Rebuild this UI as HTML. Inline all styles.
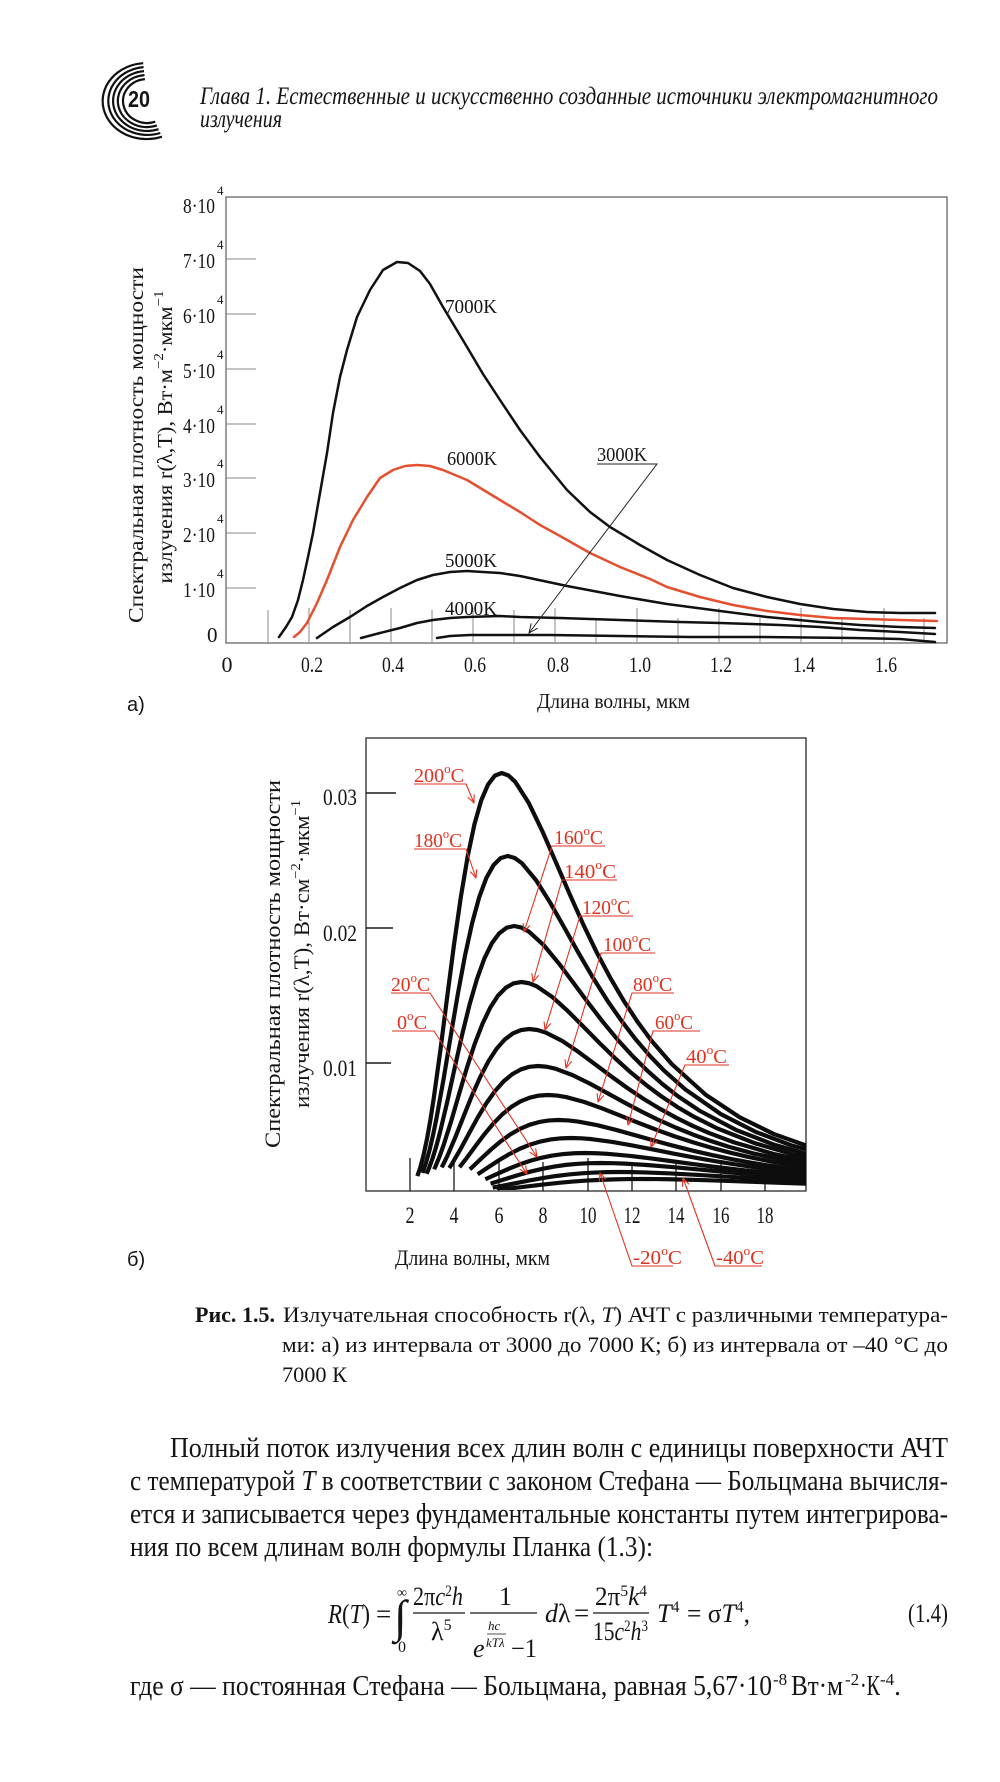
<!DOCTYPE html>
<html>
<head>
<meta charset="utf-8">
<style>
html,body{margin:0;padding:0;background:#fff;}
svg{display:block;}
</style>
</head>
<body>
<svg width="1000" height="1782" viewBox="0 0 1000 1782" xmlns="http://www.w3.org/2000/svg" font-family="'Liberation Serif','DejaVu Serif',serif" fill="#151515">
<defs>
<clipPath id="cb"><rect x="366" y="738" width="440" height="452"/></clipPath>
</defs>

<!-- ===== Header ===== -->
<g fill="none" stroke="#111" stroke-width="2.2">
<path d="M143.2,63.2 A44,38 0 1 0 162,136.7"/>
<path d="M143.6,67.1 A39,34 0 1 0 160.3,133"/>
<path d="M144,71.1 A34,30 0 1 0 158.6,129.2"/>
<path d="M144.5,75.1 A29,26 0 1 0 156.9,125.4"/>
<path d="M144.9,79.1 A24,22 0 1 0 155.2,121.7"/>
</g>
<text x="128" y="107" font-family="'Liberation Sans',sans-serif" font-weight="bold" font-size="23" textLength="22" lengthAdjust="spacingAndGlyphs">20</text>
<text x="200" y="104" font-style="italic" font-size="25" textLength="738" lengthAdjust="spacingAndGlyphs">Глава 1. Естественные и искусственно созданные источники электромагнитного</text>
<text x="200" y="127" font-style="italic" font-size="25" textLength="82" lengthAdjust="spacingAndGlyphs">излучения</text>

<!-- ===== Chart a ===== -->
<rect x="226" y="197" width="721" height="446" fill="none" stroke="#666" stroke-width="1.3"/>
<g stroke="#8a8a8a" stroke-width="1">
<line x1="226" y1="259" x2="256" y2="259"/>
<line x1="226" y1="314" x2="256" y2="314"/>
<line x1="226" y1="369" x2="256" y2="369"/>
<line x1="226" y1="424" x2="256" y2="424"/>
<line x1="226" y1="478" x2="256" y2="478"/>
<line x1="226" y1="533" x2="256" y2="533"/>
<line x1="226" y1="588" x2="256" y2="588"/>
<line x1="268" y1="610" x2="268" y2="643"/>
<line x1="309" y1="608" x2="309" y2="643"/>
<line x1="350" y1="610" x2="350" y2="643"/>
<line x1="391" y1="608" x2="391" y2="643"/>
<line x1="432" y1="610" x2="432" y2="643"/>
<line x1="473" y1="608" x2="473" y2="643"/>
<line x1="514" y1="610" x2="514" y2="643"/>
<line x1="555" y1="608" x2="555" y2="643"/>
<line x1="596" y1="618" x2="596" y2="643"/>
<line x1="637" y1="608" x2="637" y2="643"/>
<line x1="678" y1="618" x2="678" y2="643"/>
<line x1="719" y1="608" x2="719" y2="643"/>
<line x1="760" y1="618" x2="760" y2="643"/>
<line x1="801" y1="608" x2="801" y2="643"/>
<line x1="842" y1="618" x2="842" y2="643"/>
<line x1="884" y1="608" x2="884" y2="643"/>
<line x1="924" y1="618" x2="924" y2="643"/>
</g>
<!-- y tick labels -->
<g font-size="21">
<text x="183" y="213" textLength="32" lengthAdjust="spacingAndGlyphs">8·10</text>
<text x="183" y="268" textLength="32" lengthAdjust="spacingAndGlyphs">7·10</text>
<text x="183" y="323" textLength="32" lengthAdjust="spacingAndGlyphs">6·10</text>
<text x="183" y="378" textLength="32" lengthAdjust="spacingAndGlyphs">5·10</text>
<text x="183" y="433" textLength="32" lengthAdjust="spacingAndGlyphs">4·10</text>
<text x="183" y="487" textLength="32" lengthAdjust="spacingAndGlyphs">3·10</text>
<text x="183" y="542" textLength="32" lengthAdjust="spacingAndGlyphs">2·10</text>
<text x="183" y="597" textLength="32" lengthAdjust="spacingAndGlyphs">1·10</text>
<text x="207" y="642">0</text>
</g>
<g font-size="13">
<text x="217" y="195">4</text>
<text x="217" y="249">4</text>
<text x="217" y="304">4</text>
<text x="217" y="359">4</text>
<text x="217" y="414">4</text>
<text x="217" y="468">4</text>
<text x="217" y="523">4</text>
<text x="217" y="578">4</text>
</g>
<!-- x tick labels -->
<g font-size="22" text-anchor="middle">
<text x="227" y="672">0</text>
<text x="312" y="672" textLength="22" lengthAdjust="spacingAndGlyphs">0.2</text>
<text x="393" y="672" textLength="22" lengthAdjust="spacingAndGlyphs">0.4</text>
<text x="475" y="672" textLength="22" lengthAdjust="spacingAndGlyphs">0.6</text>
<text x="558" y="672" textLength="22" lengthAdjust="spacingAndGlyphs">0.8</text>
<text x="640" y="672" textLength="22" lengthAdjust="spacingAndGlyphs">1.0</text>
<text x="721" y="672" textLength="22" lengthAdjust="spacingAndGlyphs">1.2</text>
<text x="804" y="672" textLength="22" lengthAdjust="spacingAndGlyphs">1.4</text>
<text x="886" y="672" textLength="22" lengthAdjust="spacingAndGlyphs">1.6</text>
</g>
<text x="537" y="708" font-size="21" textLength="153" lengthAdjust="spacingAndGlyphs">Длина волны, мкм</text>
<text x="127" y="711" font-family="'Liberation Sans',sans-serif" font-size="20">а)</text>
<!-- y title a -->
<text transform="translate(143,445) rotate(-90)" text-anchor="middle" font-size="21" textLength="356" lengthAdjust="spacingAndGlyphs">Спектральная плотность мощности</text>
<text transform="translate(172,437) rotate(-90)" text-anchor="middle" font-size="21" textLength="293" lengthAdjust="spacingAndGlyphs">излучения  r(λ,T),  Вт·м<tspan dy="-9" font-size="14">−2</tspan><tspan dy="9">·мкм</tspan><tspan dy="-9" font-size="14">−1</tspan></text>
<!-- curves a -->
<g fill="none" stroke-width="2.5" stroke-linejoin="round" stroke-linecap="round">
<polyline stroke="#111" points="279,637 286,627 292,617 298,600 303,580 308,557 313,533 320,493 327,453 333,413 340,377 347,350 357,317 370,290 383,270 397,262 408,263 420,271 430,284 443,307 455,327 467,347 483,374 500,400 520,430 540,457 567,490 590,512 610,527 640,545 667,560 700,575 733,588 767,597 800,604 833,609 867,612 900,613 935,613"/>
<polyline stroke="#e4502f" points="294,637 300,632 307,623 317,603 327,580 340,547 353,520 367,497 380,478 393,470 405,466 417,465 430,466 443,470 467,480 500,500 520,512 540,525 560,536 590,553 620,567 650,579 667,587 700,597 733,605 767,611 800,615 833,618 867,619 900,620 937,621"/>
<polyline stroke="#111" points="317,638 333,627 350,617 367,606 383,597 400,588 417,580 433,575 450,572 467,571 483,572 500,573 520,576 567,586 620,596 667,604 720,611 767,617 820,622 860,625 900,627 935,628"/>
<polyline stroke="#111" points="361,638 380,633 400,628 417,623 433,620 450,618 467,617 500,616 520,617 560,618 620,620 680,622 720,623 780,625 820,627 860,630 900,632 935,634"/>
<polyline stroke="#111" points="437,638 450,636 470,635 500,635 550,635 620,636 690,637 760,637 853,638 900,639 935,642"/>
</g>
<!-- labels a -->
<g font-size="20">
<text x="445" y="313" textLength="52" lengthAdjust="spacingAndGlyphs">7000K</text>
<text x="447" y="465" textLength="50" lengthAdjust="spacingAndGlyphs">6000K</text>
<text x="445" y="567" textLength="52" lengthAdjust="spacingAndGlyphs">5000K</text>
<text x="445" y="615" textLength="52" lengthAdjust="spacingAndGlyphs">4000K</text>
<text x="597" y="461" textLength="50" lengthAdjust="spacingAndGlyphs">3000K</text>
</g>
<g fill="none" stroke="#222" stroke-width="1">
<polyline points="597,464 657,464 529,633"/>
<polyline points="531.2,623.4 529,633 537.6,628.2"/>
</g>

<!-- ===== Chart b ===== -->
<rect x="366" y="738" width="440" height="453" fill="none" stroke="#2a2a2a" stroke-width="1.3"/>
<g stroke="#1a1a1a" stroke-width="1.5">
<line x1="366" y1="793" x2="396" y2="793"/>
<line x1="366" y1="928" x2="393" y2="928"/>
<line x1="366" y1="1063" x2="391" y2="1063"/>
</g>
<g stroke="#1a1a1a" stroke-width="1.3">
<line x1="410" y1="1158" x2="410" y2="1191"/>
<line x1="454" y1="1162" x2="454" y2="1191"/>
<line x1="499" y1="1162" x2="499" y2="1191"/>
<line x1="543" y1="1162" x2="543" y2="1191"/>
<line x1="588" y1="1158" x2="588" y2="1191"/>
<line x1="632" y1="1162" x2="632" y2="1191"/>
<line x1="676" y1="1164" x2="676" y2="1191"/>
<line x1="721" y1="1164" x2="721" y2="1191"/>
<line x1="765" y1="1164" x2="765" y2="1191"/>
</g>
<g font-size="23">
<text x="323" y="805" textLength="34" lengthAdjust="spacingAndGlyphs">0.03</text>
<text x="323" y="941" textLength="34" lengthAdjust="spacingAndGlyphs">0.02</text>
<text x="323" y="1076" textLength="34" lengthAdjust="spacingAndGlyphs">0.01</text>
</g>
<g font-size="23" text-anchor="middle">
<text x="410" y="1223" textLength="9" lengthAdjust="spacingAndGlyphs">2</text>
<text x="454" y="1223" textLength="9" lengthAdjust="spacingAndGlyphs">4</text>
<text x="499" y="1223" textLength="9" lengthAdjust="spacingAndGlyphs">6</text>
<text x="543" y="1223" textLength="9" lengthAdjust="spacingAndGlyphs">8</text>
<text x="588" y="1223" textLength="17" lengthAdjust="spacingAndGlyphs">10</text>
<text x="632" y="1223" textLength="17" lengthAdjust="spacingAndGlyphs">12</text>
<text x="676" y="1223" textLength="17" lengthAdjust="spacingAndGlyphs">14</text>
<text x="721" y="1223" textLength="17" lengthAdjust="spacingAndGlyphs">16</text>
<text x="765" y="1223" textLength="17" lengthAdjust="spacingAndGlyphs">18</text>
</g>
<text x="395" y="1265" font-size="22" textLength="155" lengthAdjust="spacingAndGlyphs">Длина волны, мкм</text>
<text x="127" y="1266" font-family="'Liberation Sans',sans-serif" font-size="20">б)</text>
<text transform="translate(280,964) rotate(-90)" text-anchor="middle" font-size="22" textLength="368" lengthAdjust="spacingAndGlyphs">Спектральная плотность мощности</text>
<text transform="translate(309,954) rotate(-90)" text-anchor="middle" font-size="22" textLength="308" lengthAdjust="spacingAndGlyphs">излучения  r(λ,T),  Вт·см<tspan dy="-9" font-size="14">−2</tspan><tspan dy="9">·мкм</tspan><tspan dy="-9" font-size="14">−1</tspan></text>

<!-- curves b -->
<g clip-path="url(#cb)">
<g fill="none" stroke="#0d0d0d" stroke-width="4.2" stroke-linejoin="round" stroke-linecap="butt">
<polyline vector-effect="non-scaling-stroke" transform="matrix(136.1 0 0 -419 365.6 1192)" points="0.38,0.038 0.40,0.0566 0.425,0.0869 0.45,0.1248 0.475,0.170 0.50,0.222 0.55,0.3394 0.60,0.4667 0.65,0.5914 0.70,0.7045 0.75,0.8008 0.80,0.878 0.85,0.935 0.90,0.9727 0.95,0.9937 1.0,1 1.05,0.994 1.1,0.9787 1.2,0.9277 1.3,0.8603 1.4,0.7857 1.5,0.7104 1.6,0.638 1.7,0.5706 1.8,0.5099 1.9,0.4546 2.0,0.4053 2.1,0.3614 2.25,0.3052 2.5,0.2318 2.75,0.178 3.0,0.1383 3.3,0.1038"/>
<polyline vector-effect="non-scaling-stroke" transform="matrix(142.1 0 0 -336 365.6 1192)" points="0.40,0.0566 0.425,0.0869 0.45,0.1248 0.475,0.170 0.50,0.222 0.55,0.3394 0.60,0.4667 0.65,0.5914 0.70,0.7045 0.75,0.8008 0.80,0.878 0.85,0.935 0.90,0.9727 0.95,0.9937 1.0,1 1.05,0.994 1.1,0.9787 1.2,0.9277 1.3,0.8603 1.4,0.7857 1.5,0.7104 1.6,0.638 1.7,0.5706 1.8,0.5099 1.9,0.4546 2.0,0.4053 2.1,0.3614 2.25,0.3052 2.5,0.2318 2.75,0.178 3.0,0.1383 3.3,0.1038"/>
<polyline vector-effect="non-scaling-stroke" transform="matrix(148.5 0 0 -266 365.6 1192)" points="0.41,0.0685 0.425,0.0869 0.45,0.1248 0.475,0.170 0.50,0.222 0.55,0.3394 0.60,0.4667 0.65,0.5914 0.70,0.7045 0.75,0.8008 0.80,0.878 0.85,0.935 0.90,0.9727 0.95,0.9937 1.0,1 1.05,0.994 1.1,0.9787 1.2,0.9277 1.3,0.8603 1.4,0.7857 1.5,0.7104 1.6,0.638 1.7,0.5706 1.8,0.5099 1.9,0.4546 2.0,0.4053 2.1,0.3614 2.25,0.3052 2.5,0.2318 2.75,0.178 3.0,0.1383 3.3,0.1038"/>
<polyline vector-effect="non-scaling-stroke" transform="matrix(155.8 0 0 -210 365.6 1192)" points="0.44,0.108 0.45,0.1248 0.475,0.170 0.50,0.222 0.55,0.3394 0.60,0.4667 0.65,0.5914 0.70,0.7045 0.75,0.8008 0.80,0.878 0.85,0.935 0.90,0.9727 0.95,0.9937 1.0,1 1.05,0.994 1.1,0.9787 1.2,0.9277 1.3,0.8603 1.4,0.7857 1.5,0.7104 1.6,0.638 1.7,0.5706 1.8,0.5099 1.9,0.4546 2.0,0.4053 2.1,0.3614 2.25,0.3052 2.5,0.2318 2.75,0.178 3.0,0.1383 3.3,0.1038"/>
<polyline vector-effect="non-scaling-stroke" transform="matrix(163.6 0 0 -163 365.6 1192)" points="0.465,0.151 0.475,0.170 0.50,0.222 0.55,0.3394 0.60,0.4667 0.65,0.5914 0.70,0.7045 0.75,0.8008 0.80,0.878 0.85,0.935 0.90,0.9727 0.95,0.9937 1.0,1 1.05,0.994 1.1,0.9787 1.2,0.9277 1.3,0.8603 1.4,0.7857 1.5,0.7104 1.6,0.638 1.7,0.5706 1.8,0.5099 1.9,0.4546 2.0,0.4053 2.1,0.3614 2.25,0.3052 2.5,0.2318 2.75,0.178 3.0,0.1383 3.3,0.1038"/>
<polyline vector-effect="non-scaling-stroke" transform="matrix(172.5 0 0 -126 365.6 1192)" points="0.485,0.19 0.50,0.222 0.55,0.3394 0.60,0.4667 0.65,0.5914 0.70,0.7045 0.75,0.8008 0.80,0.878 0.85,0.935 0.90,0.9727 0.95,0.9937 1.0,1 1.05,0.994 1.1,0.9787 1.2,0.9277 1.3,0.8603 1.4,0.7857 1.5,0.7104 1.6,0.638 1.7,0.5706 1.8,0.5099 1.9,0.4546 2.0,0.4053 2.1,0.3614 2.25,0.3052 2.5,0.2318 2.75,0.178 3.0,0.1383 3.3,0.1038"/>
<polyline vector-effect="non-scaling-stroke" transform="matrix(182.3 0 0 -97 365.6 1192)" points="0.515,0.256 0.55,0.3394 0.60,0.4667 0.65,0.5914 0.70,0.7045 0.75,0.8008 0.80,0.878 0.85,0.935 0.90,0.9727 0.95,0.9937 1.0,1 1.05,0.994 1.1,0.9787 1.2,0.9277 1.3,0.8603 1.4,0.7857 1.5,0.7104 1.6,0.638 1.7,0.5706 1.8,0.5099 1.9,0.4546 2.0,0.4053 2.1,0.3614 2.25,0.3052 2.5,0.2318 2.75,0.178 3.0,0.1383 3.3,0.1038"/>
<polyline vector-effect="non-scaling-stroke" transform="matrix(193.1 0 0 -72 365.6 1192)" points="0.54,0.315 0.55,0.3394 0.60,0.4667 0.65,0.5914 0.70,0.7045 0.75,0.8008 0.80,0.878 0.85,0.935 0.90,0.9727 0.95,0.9937 1.0,1 1.05,0.994 1.1,0.9787 1.2,0.9277 1.3,0.8603 1.4,0.7857 1.5,0.7104 1.6,0.638 1.7,0.5706 1.8,0.5099 1.9,0.4546 2.0,0.4053 2.1,0.3614 2.25,0.3052 2.5,0.2318 2.75,0.178 3.0,0.1383 3.3,0.1038"/>
<polyline vector-effect="non-scaling-stroke" transform="matrix(205.6 0 0 -54 365.6 1192)" points="0.545,0.327 0.55,0.3394 0.60,0.4667 0.65,0.5914 0.70,0.7045 0.75,0.8008 0.80,0.878 0.85,0.935 0.90,0.9727 0.95,0.9937 1.0,1 1.05,0.994 1.1,0.9787 1.2,0.9277 1.3,0.8603 1.4,0.7857 1.5,0.7104 1.6,0.638 1.7,0.5706 1.8,0.5099 1.9,0.4546 2.0,0.4053 2.1,0.3614 2.25,0.3052 2.5,0.2318 2.75,0.178 3.0,0.1383 3.3,0.1038"/>
<polyline vector-effect="non-scaling-stroke" transform="matrix(219.6 0 0 -39 365.6 1192)" points="0.545,0.327 0.55,0.3394 0.60,0.4667 0.65,0.5914 0.70,0.7045 0.75,0.8008 0.80,0.878 0.85,0.935 0.90,0.9727 0.95,0.9937 1.0,1 1.05,0.994 1.1,0.9787 1.2,0.9277 1.3,0.8603 1.4,0.7857 1.5,0.7104 1.6,0.638 1.7,0.5706 1.8,0.5099 1.9,0.4546 2.0,0.4053 2.1,0.3614 2.25,0.3052 2.5,0.2318 2.75,0.178 3.0,0.1383 3.3,0.1038"/>
<polyline vector-effect="non-scaling-stroke" transform="matrix(235.8 0 0 -29 365.6 1192)" points="0.53,0.29 0.55,0.3394 0.60,0.4667 0.65,0.5914 0.70,0.7045 0.75,0.8008 0.80,0.878 0.85,0.935 0.90,0.9727 0.95,0.9937 1.0,1 1.05,0.994 1.1,0.9787 1.2,0.9277 1.3,0.8603 1.4,0.7857 1.5,0.7104 1.6,0.638 1.7,0.5706 1.8,0.5099 1.9,0.4546 2.0,0.4053 2.1,0.3614 2.25,0.3052 2.5,0.2318 2.75,0.178 3.0,0.1383 3.3,0.1038"/>
<polyline vector-effect="non-scaling-stroke" transform="matrix(254.2 0 0 -20 365.6 1192)" points="0.50,0.222 0.55,0.3394 0.60,0.4667 0.65,0.5914 0.70,0.7045 0.75,0.8008 0.80,0.878 0.85,0.935 0.90,0.9727 0.95,0.9937 1.0,1 1.05,0.994 1.1,0.9787 1.2,0.9277 1.3,0.8603 1.4,0.7857 1.5,0.7104 1.6,0.638 1.7,0.5706 1.8,0.5099 1.9,0.4546 2.0,0.4053 2.1,0.3614 2.25,0.3052 2.5,0.2318 2.75,0.178 3.0,0.1383 3.3,0.1038"/>
<polyline vector-effect="non-scaling-stroke" transform="matrix(276.2 0 0 -13 365.6 1192)" points="0.475,0.170 0.50,0.222 0.55,0.3394 0.60,0.4667 0.65,0.5914 0.70,0.7045 0.75,0.8008 0.80,0.878 0.85,0.935 0.90,0.9727 0.95,0.9937 1.0,1 1.05,0.994 1.1,0.9787 1.2,0.9277 1.3,0.8603 1.4,0.7857 1.5,0.7104 1.6,0.638 1.7,0.5706 1.8,0.5099 1.9,0.4546 2.0,0.4053 2.1,0.3614 2.25,0.3052 2.5,0.2318 2.75,0.178 3.0,0.1383 3.3,0.1038"/>
</g>
</g>

<!-- red annotations b -->
<g fill="none" stroke="#e2321f" stroke-width="1.1" stroke-linejoin="round">
<polyline points="414,784 466,784 474,803"/><polyline points="467.7,797 474,803 474.1,794.2"/>
<polyline points="414,849 466,849 476,878"/><polyline points="470.1,871.5 476,878 476.7,869.3"/>
<polyline points="605,846 552,846 524,932"/><polyline points="523.2,923.3 524,932 529.8,925.5"/>
<polyline points="617,880 562,880 533,982"/><polyline points="531.8,973.3 533,982 538.6,975.3"/>
<polyline points="633,916 580,916 545,1030"/><polyline points="544,1021.4 545,1030 550.7,1023.4"/>
<polyline points="655,953 601,953 566,1068"/><polyline points="565,1059.3 566,1068 571.7,1061.3"/>
<polyline points="674,993 632,993 598,1102"/><polyline points="597.1,1093.4 598,1102 603.7,1095.4"/>
<polyline points="700,1031 653,1031 628,1125"/><polyline points="626.7,1116.4 628,1125 633.5,1118.2"/>
<polyline points="729,1065 685,1065 651,1147"/><polyline points="650.8,1138.3 651,1147 657.3,1141"/>
<polyline points="391,993 430,993 537,1157"/><polyline points="529.7,1152.2 537,1157 535.6,1148.4"/>
<polyline points="392,1031 434,1031 527,1174"/><polyline points="519.7,1169.2 527,1174 525.6,1165.4"/>
<polyline points="673,1266 632,1266 600,1173"/><polyline points="605.9,1179.4 600,1173 599.3,1181.7"/>
<polyline points="762,1266 715,1266 683,1178"/><polyline points="689,1184.3 683,1178 682.4,1186.7"/>
</g>
<g fill="#e2321f" font-size="20">
<text x="414" y="782" textLength="50" lengthAdjust="spacingAndGlyphs">200<tspan dy="-9" font-size="13">o</tspan><tspan dy="9">C</tspan></text>
<text x="414" y="847" textLength="48" lengthAdjust="spacingAndGlyphs">180<tspan dy="-9" font-size="13">o</tspan><tspan dy="9">C</tspan></text>
<text x="554" y="844" textLength="49" lengthAdjust="spacingAndGlyphs">160<tspan dy="-9" font-size="13">o</tspan><tspan dy="9">C</tspan></text>
<text x="564" y="878" textLength="52" lengthAdjust="spacingAndGlyphs">140<tspan dy="-9" font-size="13">o</tspan><tspan dy="9">C</tspan></text>
<text x="582" y="914" textLength="48" lengthAdjust="spacingAndGlyphs">120<tspan dy="-9" font-size="13">o</tspan><tspan dy="9">C</tspan></text>
<text x="603" y="951" textLength="48" lengthAdjust="spacingAndGlyphs">100<tspan dy="-9" font-size="13">o</tspan><tspan dy="9">C</tspan></text>
<text x="633" y="991" textLength="39" lengthAdjust="spacingAndGlyphs">80<tspan dy="-9" font-size="13">o</tspan><tspan dy="9">C</tspan></text>
<text x="655" y="1029" textLength="38" lengthAdjust="spacingAndGlyphs">60<tspan dy="-9" font-size="13">o</tspan><tspan dy="9">C</tspan></text>
<text x="686" y="1063" textLength="41" lengthAdjust="spacingAndGlyphs">40<tspan dy="-9" font-size="13">o</tspan><tspan dy="9">C</tspan></text>
<text x="391" y="991" textLength="39" lengthAdjust="spacingAndGlyphs">20<tspan dy="-9" font-size="13">o</tspan><tspan dy="9">C</tspan></text>
<text x="397" y="1029" textLength="30" lengthAdjust="spacingAndGlyphs">0<tspan dy="-9" font-size="13">o</tspan><tspan dy="9">C</tspan></text>
<text x="633" y="1264" textLength="49" lengthAdjust="spacingAndGlyphs">-20<tspan dy="-9" font-size="13">o</tspan><tspan dy="9">C</tspan></text>
<text x="716" y="1264" textLength="48" lengthAdjust="spacingAndGlyphs">-40<tspan dy="-9" font-size="13">o</tspan><tspan dy="9">C</tspan></text>
</g>

<!-- ===== Caption ===== -->
<text x="195" y="1322" font-size="22" font-weight="bold" textLength="80" lengthAdjust="spacingAndGlyphs">Рис. 1.5.</text>
<text x="283" y="1322" font-size="22" textLength="665" lengthAdjust="spacingAndGlyphs">Излучательная способность r(λ, <tspan font-style="italic">T</tspan>) АЧТ с различными температура-</text>
<text x="282" y="1352" font-size="22" textLength="666" lengthAdjust="spacingAndGlyphs">ми: а) из интервала от 3000 до 7000 К; б) из интервала от –40 °С до</text>
<text x="282" y="1382" font-size="22" textLength="65" lengthAdjust="spacingAndGlyphs">7000 К</text>

<!-- ===== Paragraph ===== -->
<g font-size="28">
<text x="170" y="1457" textLength="778" lengthAdjust="spacingAndGlyphs">Полный поток излучения всех длин волн с единицы поверхности АЧТ</text>
<text x="130" y="1490" textLength="818" lengthAdjust="spacingAndGlyphs">с температурой <tspan font-style="italic">T</tspan> в соответствии с законом Стефана — Больцмана вычисля-</text>
<text x="130" y="1523" textLength="818" lengthAdjust="spacingAndGlyphs">ется и записывается через фундаментальные константы путем интегрирова-</text>
<text x="130" y="1556" textLength="523" lengthAdjust="spacingAndGlyphs">ния по всем длинам волн формулы Планка (1.3):</text>
</g>

<!-- ===== Formula ===== -->
<g font-size="27">
<text x="328" y="1623" textLength="42" lengthAdjust="spacingAndGlyphs"><tspan font-style="italic">R</tspan>(<tspan font-style="italic">T</tspan>)</text>
<text x="376" y="1623">=</text>
<text x="394" y="1632" font-size="46">∫</text>
<text x="402" y="1597" font-size="14" text-anchor="middle">∞</text>
<text x="402" y="1652" font-size="16" text-anchor="middle">0</text>
<text x="413" y="1605" font-size="26" textLength="50" lengthAdjust="spacingAndGlyphs">2π<tspan font-style="italic">c</tspan><tspan dy="-9" font-size="16">2</tspan><tspan dy="9" font-style="italic">h</tspan></text>
<text x="431" y="1640" font-size="26">λ<tspan dy="-10" font-size="16">5</tspan></text>
<text x="499" y="1605" font-size="26">1</text>
<text x="473" y="1657" font-size="26" font-style="italic">e</text>
<text x="488" y="1630" font-size="13" font-style="italic">hc</text>
<text x="486" y="1647" font-size="13" font-style="italic">kTλ</text>
<text x="511" y="1657" font-size="26" textLength="26" lengthAdjust="spacingAndGlyphs">−1</text>
<text x="545" y="1622" font-size="26"><tspan font-style="italic">d</tspan>λ</text>
<text x="574" y="1622">=</text>
<text x="595" y="1605" font-size="26" textLength="52" lengthAdjust="spacingAndGlyphs">2π<tspan dy="-9" font-size="16">5</tspan><tspan dy="9" font-style="italic">k</tspan><tspan dy="-9" font-size="16">4</tspan></text>
<text x="593" y="1640" font-size="26" textLength="55" lengthAdjust="spacingAndGlyphs">15<tspan font-style="italic">c</tspan><tspan dy="-9" font-size="16">2</tspan><tspan dy="9" font-style="italic">h</tspan><tspan dy="-9" font-size="16">3</tspan></text>
<text x="657" y="1622" font-size="26"><tspan font-style="italic">T</tspan><tspan dy="-10" font-size="16">4</tspan></text>
<text x="687" y="1622" font-size="26" textLength="63" lengthAdjust="spacingAndGlyphs">= σ<tspan font-style="italic">T</tspan><tspan dy="-10" font-size="16">4</tspan><tspan dy="10">,</tspan></text>
<text x="908" y="1622" font-size="26" textLength="40" lengthAdjust="spacingAndGlyphs">(1.4)</text>
</g>
<g stroke="#151515" stroke-width="1.2">
<line x1="413" y1="1613" x2="465" y2="1613"/>
<line x1="470" y1="1613" x2="537" y2="1613"/>
<line x1="487" y1="1634" x2="506" y2="1634" stroke-width="0.8"/>
<line x1="593" y1="1613" x2="649" y2="1613"/>
</g>

<!-- ===== Last line ===== -->
<g font-size="28">
<text x="130" y="1695" textLength="642" lengthAdjust="spacingAndGlyphs">где σ — постоянная Стефана — Больцмана, равная 5,67·10</text>
<text x="773" y="1685" font-size="17">-8</text>
<text x="791" y="1695" textLength="52" lengthAdjust="spacingAndGlyphs">Вт·м</text>
<text x="845" y="1685" font-size="17">-2</text>
<text x="860" y="1695" textLength="20" lengthAdjust="spacingAndGlyphs">·К</text>
<text x="880" y="1685" font-size="17">-4</text>
<text x="894" y="1695">.</text>
</g>
</svg>
</body>
</html>
